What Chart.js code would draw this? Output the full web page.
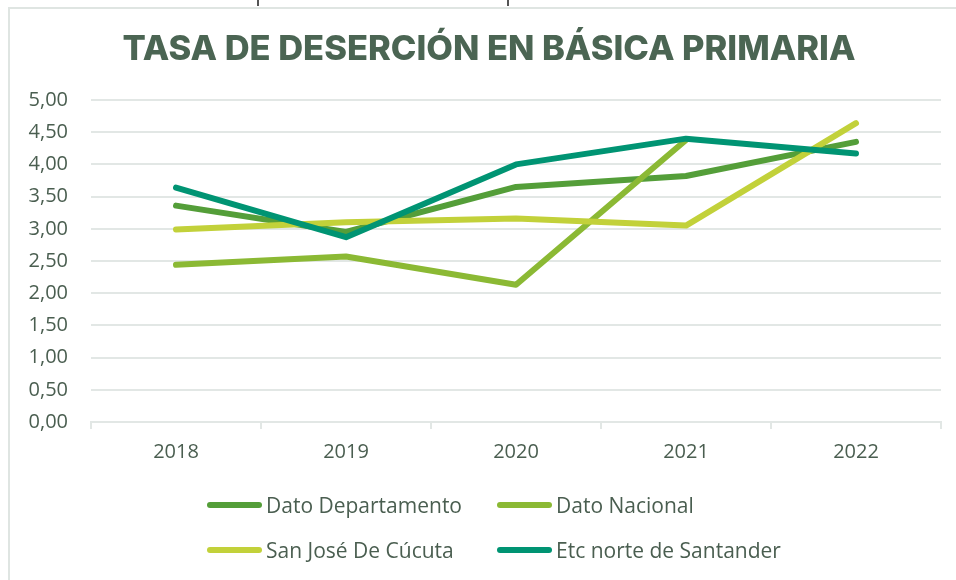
<!DOCTYPE html>
<html>
<head>
<meta charset="utf-8">
<script src="https://cdn.jsdelivr.net/npm/chart.js@4.4.1/dist/chart.umd.min.js"></script>
<style>
  html, body { margin: 0; padding: 0; background: #fff; }
  #wrap { position: relative; width: 956px; height: 580px; overflow: hidden; }
  #frame { position: absolute; left: 8px; top: 7px; width: 970px; height: 600px; border: 2px solid #dfe5e2; }
  .mark { position: absolute; top: 0; width: 2px; height: 6px; background: #555; }
  canvas { position: absolute; left: 0; top: 0; }
  #title { position: absolute; left: 0; width: 978px; top: 27px; line-height: 41px; text-align: center; font-family: Inter, sans-serif; font-weight: 800; font-size: 34.5px; color: #4b6553; white-space: nowrap; }
  .leg { position: absolute; display: flex; align-items: center; font-family: "Open Sans", sans-serif; font-size: 21px; color: #4a5e50; white-space: nowrap; }
  .leg i { display: inline-block; width: 55px; height: 6px; border-radius: 3px; margin-right: 4px; }
</style>
</head>
<body>
<div id="wrap">
  <div id="frame"></div>
  <div class="mark" style="left:257px"></div>
  <div class="mark" style="left:507px"></div>
  <canvas id="chart" width="956" height="580"></canvas>
  <div id="title">TASA DE DESERCIÓN EN BÁSICA PRIMARIA</div>
  <div id="legend"></div>
</div>
<script>
const years = ['2018', '2019', '2020', '2021', '2022'];
const departamento = [3.36, 2.95, 3.65, 3.82, 4.35];
const nacional = [2.44, 2.57, 2.13, 4.38, null];
const cucuta = [2.99, 3.10, 3.16, 3.05, 4.64];
const etcNorte = [3.64, 2.87, 4.00, 4.40, 4.17];
const yTicks = [0, 0.5, 1, 1.5, 2, 2.5, 3, 3.5, 4, 4.5, 5];

const textColor = '#4a5e50';
const gridColor = '#e2e7e5';

const series = [
    {label: 'Dato Departamento', data: departamento, color: '#549e39', order: 3},
    {label: 'Dato Nacional', data: nacional, color: '#8bb934', order: 2},
    {label: 'San José De Cúcuta', data: cucuta, color: '#c2d13a', order: 1},
    {label: 'Etc norte de Santander', data: etcNorte, color: '#009473', order: 0},
];

new Chart(document.getElementById('chart'), {
    type: 'line',
    data: {
        labels: years,
        datasets: series.map((s) => ({
            label: s.label,
            data: s.data,
            borderColor: s.color,
            backgroundColor: s.color,
            borderWidth: 6,
            borderCapStyle: 'round',
            borderJoinStyle: 'round',
            pointRadius: 0,
            tension: 0,
            order: s.order,
        }))
    },
    options: {
        responsive: false,
        animation: false,
        layout: {padding: {top: 100, left: 0, right: 15, bottom: 0}},
        plugins: {
            legend: {display: false},
            tooltip: {enabled: false},
            title: {display: false}
        },
        scales: {
            x: {
                offset: true,
                grid: {offset: true, drawOnChartArea: false, drawTicks: true, tickLength: 7, color: gridColor, lineWidth: 2},
                border: {display: true, color: gridColor, width: 2},
                ticks: {color: textColor, font: {family: 'Open Sans', size: 20}, padding: 11},
                afterFit: (axis) => { axis.height = 158; }
            },
            y: {
                min: 0,
                max: 5,
                afterBuildTicks: (axis) => { axis.ticks = yTicks.map((v) => ({value: v})); },
                grid: {drawTicks: false, color: gridColor, lineWidth: 2},
                border: {display: false},
                ticks: {
                    color: textColor,
                    font: {family: 'Open Sans', size: 20},
                    padding: 23,
                    callback: (v) => Number(v).toFixed(2).replace('.', ',')
                },
                afterFit: (axis) => { axis.width = 91; }
            }
        }
    }
});

// legend laid out in two columns like the original
const legend = document.getElementById('legend');
const cols = [207, 497];
const rows = [505, 550];
series.forEach((s, i) => {
    const d = document.createElement('div');
    d.className = 'leg';
    d.style.left = cols[i % 2] + 'px';
    d.style.top = (rows[Math.floor(i / 2)] - 14) + 'px';
    d.style.height = '28px';
    d.innerHTML = '<i style="background:' + s.color + '"></i>' + s.label;
    legend.appendChild(d);
});
</script>
</body>
</html>
